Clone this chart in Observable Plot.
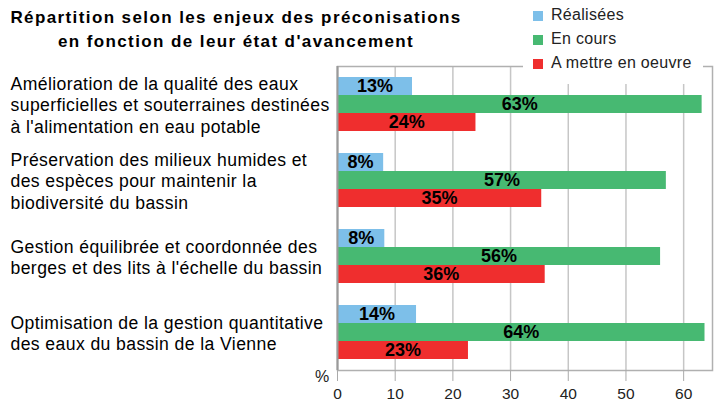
<!DOCTYPE html>
<html><head><meta charset="utf-8">
<script src="https://cdn.jsdelivr.net/npm/d3@7"></script>
<script src="https://cdn.jsdelivr.net/npm/@observablehq/plot@0.6"></script>
<style>
body{margin:0;background:#fff;font-family:"Liberation Sans",Arial,sans-serif;}
#wrap{position:relative;width:720px;height:401px;overflow:hidden;}
#chart{position:absolute;left:0;top:0;}
#title{position:absolute;left:0;top:6px;width:472px;text-align:center;font-weight:bold;font-size:17px;line-height:24px;letter-spacing:1.4px;color:#000;}
#legend{position:absolute;left:523px;top:0;width:180px;height:84px;background:#fff;}
.li{position:absolute;left:10px;height:24px;font-size:16px;letter-spacing:0.3px;color:#222;white-space:nowrap;}
.sw{position:absolute;left:0;top:1px;width:10px;height:10px;}
.lt{position:absolute;left:18px;top:-4px;}
#pct{position:absolute;left:315px;top:368px;font-size:16px;color:#222;}
#chart g[text-anchor="start"] text{letter-spacing:0.4px;}
</style>
</head><body>
<div id="wrap">
  <div id="chart"></div>
  <div id="title">Répartition selon les enjeux des préconisations<br>en fonction de leur état d'avancement</div>
  <div id="legend"></div>
  <div id="pct">%</div>
</div>
<script>
const categories = [
  "Amélioration de la qualité des eaux\nsuperficielles et souterraines destinées\nà l'alimentation en eau potable",
  "Préservation des milieux humides et\ndes espèces pour maintenir la\nbiodiversité du bassin",
  "Gestion équilibrée et coordonnée des\nberges et des lits à l'échelle du bassin",
  "Optimisation de la gestion quantitative\ndes eaux du bassin de la Vienne"
];
const series = ["Réalisées", "En cours", "A mettre en oeuvre"];
const realisees = [13, 8, 8.2, 13.7];
const enCours = [63.2, 57, 56, 63.7];
const aMettre = [24, 35.4, 36, 22.7];
const colors = ["#7dbfe9", "#47b972", "#ef2e2e"];
const xTicks = [0, 10, 20, 30, 40, 50, 60];

const seriesValues = [realisees, enCours, aMettre];
const rows = categories.flatMap((cat, i) =>
  series.map((s, j) => ({cat, series: s, value: seriesValues[j][i]}))
);

const chart = Plot.plot({
  width: 720,
  height: 401,
  marginTop: 66,
  marginLeft: 337,
  marginRight: 8,
  marginBottom: 31,
  style: {fontFamily: "'Liberation Sans', Arial, sans-serif", color: "#111", background: "#fff"},
  x: {domain: [0, 65]},
  fy: {domain: categories, padding: 0, axis: null},
  y: {domain: series, paddingInner: 0, paddingOuter: 0.55, axis: null},
  color: {domain: series, range: colors},
  marks: [
    Plot.gridX(xTicks, {stroke: "#c6c6c6", strokeOpacity: 1, strokeWidth: 1.5}),
    Plot.frame({facet: "super", stroke: "#b0b0b0", strokeWidth: 1.5}),
    Plot.barX(rows, {fy: "cat", y: "series", x: "value", fill: "series"}),
    Plot.text(rows, {fy: "cat", y: "series", x: d => d.value / 2, text: d => Math.round(d.value) + "%",
      fontWeight: "bold", fontSize: 18, fill: "#000"}),
    Plot.ruleX([0], {stroke: "#9a9a9a", strokeWidth: 2}),
    Plot.axisX(xTicks, {anchor: "bottom", tickSize: 11, tickPadding: 6, fontSize: 15.5,
      stroke: "#aaa", fill: "#222", label: null}),
    Plot.text(categories, {fy: d => d, text: d => d, frameAnchor: "left", textAnchor: "start", dx: -327,
      lineHeight: 1.22, fontSize: 17.6, fill: "#000"})
  ]
});
document.getElementById("chart").append(chart);

const legend = document.getElementById("legend");
series.forEach((s, i) => {
  const li = document.createElement("div");
  li.className = "li";
  li.style.top = (10 + i * 24) + "px";
  li.innerHTML = `<span class="sw" style="background:${colors[i]}"></span><span class="lt">${s}</span>`;
  legend.append(li);
});
</script>
</body></html>
